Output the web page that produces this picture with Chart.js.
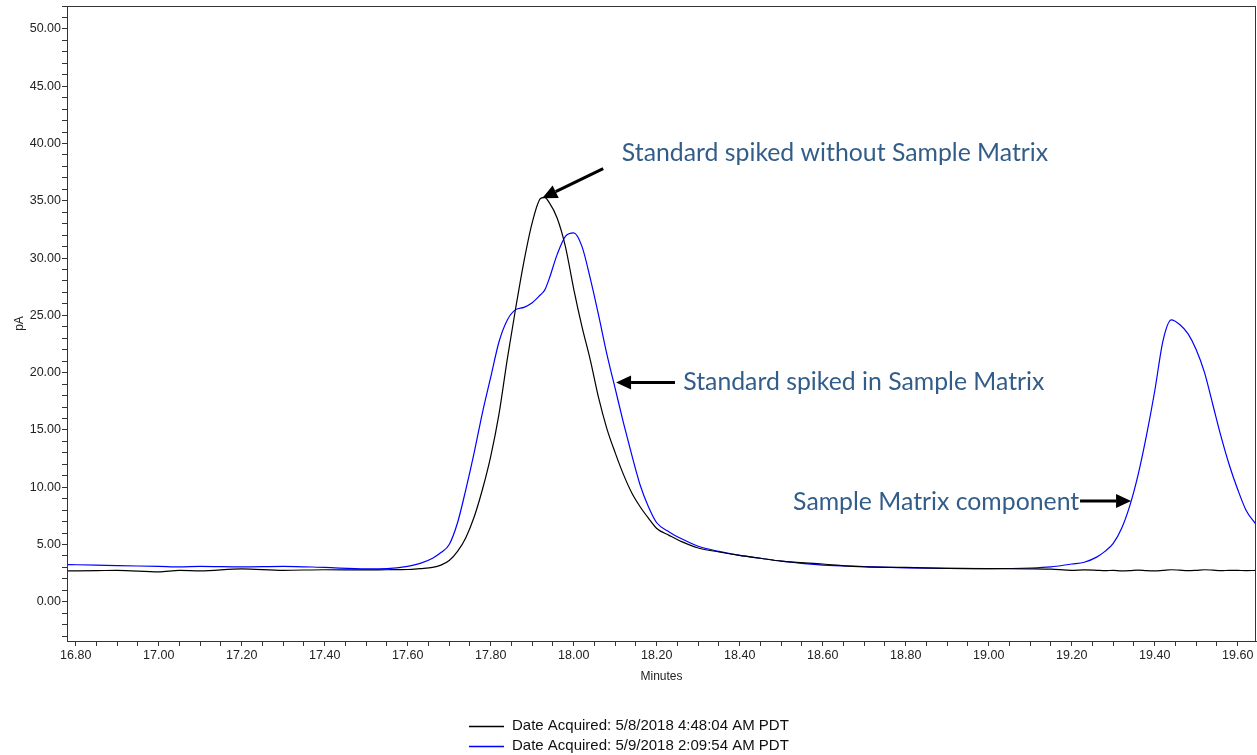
<!DOCTYPE html>
<html>
<head>
<meta charset="utf-8">
<title>Chromatogram overlay</title>
<script src="https://cdn.jsdelivr.net/npm/chart.js@4.4.0/dist/chart.umd.min.js"></script>
<style>
  html, body { margin: 0; padding: 0; background: #fff; }
  #chrom { display: block; }
</style>
</head>
<body>
<canvas id="chrom" width="1257" height="755"></canvas>
<script>
// retention time, minutes
const minutes = [
  16.78, 16.85, 16.90, 17.00, 17.05, 17.10, 17.20, 17.30, 17.40, 17.50,
  17.55, 17.60, 17.63, 17.66, 17.68, 17.70, 17.72, 17.74, 17.76, 17.78,
  17.80, 17.82, 17.84, 17.86, 17.88, 17.90, 17.92, 17.93, 17.94, 17.96, 17.98,
  18.00, 18.02, 18.04, 18.06, 18.08, 18.10, 18.12, 18.14, 18.16, 18.18,
  18.20, 18.23, 18.26, 18.30, 18.35, 18.40, 18.45, 18.50, 18.60, 18.70,
  18.80, 18.90, 19.00, 19.10, 19.15, 19.20, 19.23, 19.26, 19.28, 19.30,
  19.32, 19.34, 19.36, 19.38, 19.40, 19.42, 19.44, 19.46, 19.48, 19.50,
  19.52, 19.54, 19.56, 19.58, 19.60, 19.62, 19.645
];

// pA, standard without matrix (black)
const signalMay8 = [
  2.70, 2.72, 2.75, 2.62, 2.75, 2.70, 2.88, 2.75, 2.80, 2.78,
  2.80, 2.82, 2.90, 3.00, 3.20, 3.60, 4.40, 5.60, 7.40, 9.80,
  12.7, 16.4, 21.2, 25.6, 29.7, 33.1, 35.2, 35.3, 34.9, 33.5, 31.0,
  27.3, 24.0, 21.1, 17.8, 15.1, 13.0, 11.1, 9.5, 8.3, 7.3,
  6.4, 5.8, 5.25, 4.7, 4.35, 4.05, 3.8, 3.55, 3.3, 3.05,
  3.0, 2.92, 2.9, 2.88, 2.85, 2.75, 2.78, 2.75, 2.72, 2.75,
  2.70, 2.72, 2.76, 2.72, 2.70, 2.75, 2.80, 2.76, 2.72, 2.75,
  2.80, 2.76, 2.72, 2.75, 2.74, 2.72, 2.74
];

// pA, standard spiked in matrix (blue)
const signalMay9 = [
  3.25, 3.20, 3.15, 3.10, 3.05, 3.10, 3.05, 3.10, 3.00, 2.88,
  2.90, 3.10, 3.35, 3.80, 4.30, 5.00, 6.90, 9.80, 13.0, 16.5,
  19.6, 22.7, 24.6, 25.5, 25.7, 26.1, 26.8, 27.2, 28.1, 30.3, 31.9,
  32.2, 31.0, 28.2, 25.0, 21.6, 18.6, 15.6, 12.8, 10.2, 8.3,
  6.9, 6.1, 5.5, 4.85, 4.4, 4.05, 3.8, 3.55, 3.2, 3.08,
  2.97, 2.92, 2.90, 2.95, 3.05, 3.30, 3.45, 3.90, 4.40, 5.10,
  6.40, 8.40, 11.1, 14.5, 18.4, 22.8, 24.6, 24.2, 23.4, 22.0,
  20.0, 17.2, 14.4, 11.9, 9.8, 8.0, 6.7
];

const seriesNames = [
  'Date Acquired: 5/8/2018 4:48:04 AM PDT',
  'Date Acquired: 5/9/2018 2:09:54 AM PDT'
];
const seriesColors = ['#000000', '#0000ff'];

const xMajorTicks = [16.8, 17.0, 17.2, 17.4, 17.6, 17.8, 18.0, 18.2, 18.4, 18.6, 18.8, 19.0, 19.2, 19.4, 19.6];
const yMajorTicks = [0, 5, 10, 15, 20, 25, 30, 35, 40, 45, 50];

// callout texts and arrows, anchored in data units
const callouts = [
  { text: 'Standard spiked without Sample Matrix', tx: 18.116, ty: 38.49, align: 'left', from: [18.071, 37.81], to: [17.924, 35.22] },
  { text: 'Standard spiked in Sample Matrix', tx: 18.264, ty: 18.46, align: 'left', from: [18.244, 19.13], to: [18.102, 19.13] },
  { text: 'Sample Matrix component', tx: 19.218, ty: 7.98, align: 'right', from: [19.220, 8.80], to: [19.343, 8.80] }
];

const isMajor = (v, list) => list.some(m => Math.abs(m - v) < 1e-6);
const toPoints = vals => minutes.map((m, i) => ({ x: m, y: vals[i] }));

function drawArrow(ctx, x1, y1, x2, y2) {
  const head = 15, half = 7;
  const a = Math.atan2(y2 - y1, x2 - x1);
  const bx = x2 - head * Math.cos(a), by = y2 - head * Math.sin(a);
  ctx.beginPath();
  ctx.moveTo(x1, y1);
  ctx.lineTo(bx, by);
  ctx.lineWidth = 3;
  ctx.stroke();
  ctx.beginPath();
  ctx.moveTo(x2, y2);
  ctx.lineTo(bx + half * Math.sin(a), by - half * Math.cos(a));
  ctx.lineTo(bx - half * Math.sin(a), by + half * Math.cos(a));
  ctx.closePath();
  ctx.fill();
}

const framePlugin = {
  id: 'frame',
  afterDraw(chart) {
    const { ctx, chartArea: a, scales } = chart;
    ctx.save();
    ctx.strokeStyle = '#333';
    ctx.lineWidth = 1;
    ctx.strokeRect(a.left + 0.5, a.top + 0.5, a.right - a.left - 1, a.bottom - a.top);

    // callouts
    ctx.font = '24px Lato';
    const fit = 426 / ctx.measureText(callouts[0].text).width;
    ctx.font = (24 * fit).toFixed(1) + 'px Lato';
    ctx.textBaseline = 'alphabetic';
    callouts.forEach(c => {
      ctx.fillStyle = '#335d89';
      ctx.textAlign = c.align;
      ctx.fillText(c.text, scales.x.getPixelForValue(c.tx), scales.y.getPixelForValue(c.ty));
      ctx.fillStyle = '#000';
      ctx.strokeStyle = '#000';
      drawArrow(ctx,
        scales.x.getPixelForValue(c.from[0]), scales.y.getPixelForValue(c.from[1]),
        scales.x.getPixelForValue(c.to[0]), scales.y.getPixelForValue(c.to[1]));
    });

    // stacked legend under the axis
    ctx.font = '15px "Liberation Sans", Arial, sans-serif';
    ctx.textAlign = 'left';
    ctx.textBaseline = 'middle';
    const textW = Math.max(...chart.data.datasets.map(d => ctx.measureText(d.label).width));
    const startX = Math.round((chart.width - (35 + 8 + textW)) / 2);
    chart.data.datasets.forEach((d, i) => {
      const y = 726.5 + i * 20;
      ctx.strokeStyle = d.borderColor;
      ctx.lineWidth = 1.5;
      ctx.beginPath();
      ctx.moveTo(startX, y);
      ctx.lineTo(startX + 35, y);
      ctx.stroke();
      ctx.fillStyle = '#111';
      ctx.fillText(d.label, startX + 43, y - 1);
    });
    ctx.restore();
  }
};

const tickFont = { family: '"Liberation Sans", Arial, sans-serif', size: 12.5 };

new Chart(document.getElementById('chrom'), {
  type: 'line',
  data: {
    datasets: [
      { label: seriesNames[0], data: toPoints(signalMay8), borderColor: seriesColors[0] },
      { label: seriesNames[1], data: toPoints(signalMay9), borderColor: seriesColors[1] }
    ]
  },
  options: {
    responsive: false,
    animation: false,
    parsing: false,
    layout: { padding: { top: 6, right: 1, bottom: 69, left: 0 } },
    elements: {
      point: { radius: 0 },
      line: { borderWidth: 1.2, cubicInterpolationMode: 'monotone', fill: false }
    },
    plugins: {
      legend: { display: false },
      tooltip: { enabled: false }
    },
    scales: {
      x: {
        type: 'linear',
        min: 16.779,
        max: 19.644,
        afterFit: s => { s.height = 45; s.paddingLeft = 0; s.paddingRight = 0; },
        border: { display: true, color: '#333', width: 1 },
        grid: { drawOnChartArea: false, drawTicks: true, tickLength: 5, color: '#333' },
        ticks: {
          stepSize: 0.05,
          autoSkip: false,
          includeBounds: false,
          maxRotation: 0,
          padding: 2,
          color: '#222',
          font: tickFont,
          callback: v => isMajor(v, xMajorTicks) ? v.toFixed(2) : ''
        },
        title: {
          display: true,
          text: 'Minutes',
          color: '#222',
          font: { family: '"Liberation Sans", Arial, sans-serif', size: 12 },
          padding: { top: 4, bottom: 2 }
        }
      },
      y: {
        type: 'linear',
        min: -3.42,
        max: 52.0,
        afterFit: s => { s.width = 67; s.paddingTop = 0; s.paddingBottom = 0; },
        border: { display: true, color: '#333', width: 1 },
        grid: { drawOnChartArea: false, drawTicks: true, tickLength: 5, color: '#333' },
        ticks: {
          stepSize: 1,
          autoSkip: false,
          includeBounds: false,
          padding: 1,
          color: '#222',
          font: tickFont,
          callback: v => isMajor(v, yMajorTicks) ? v.toFixed(2) : ''
        },
        title: {
          display: true,
          text: 'pA',
          color: '#222',
          font: { family: '"Liberation Sans", Arial, sans-serif', size: 12 },
          padding: { top: 12, bottom: 0 }
        }
      }
    }
  },
  plugins: [framePlugin]
});
</script>
</body>
</html>
